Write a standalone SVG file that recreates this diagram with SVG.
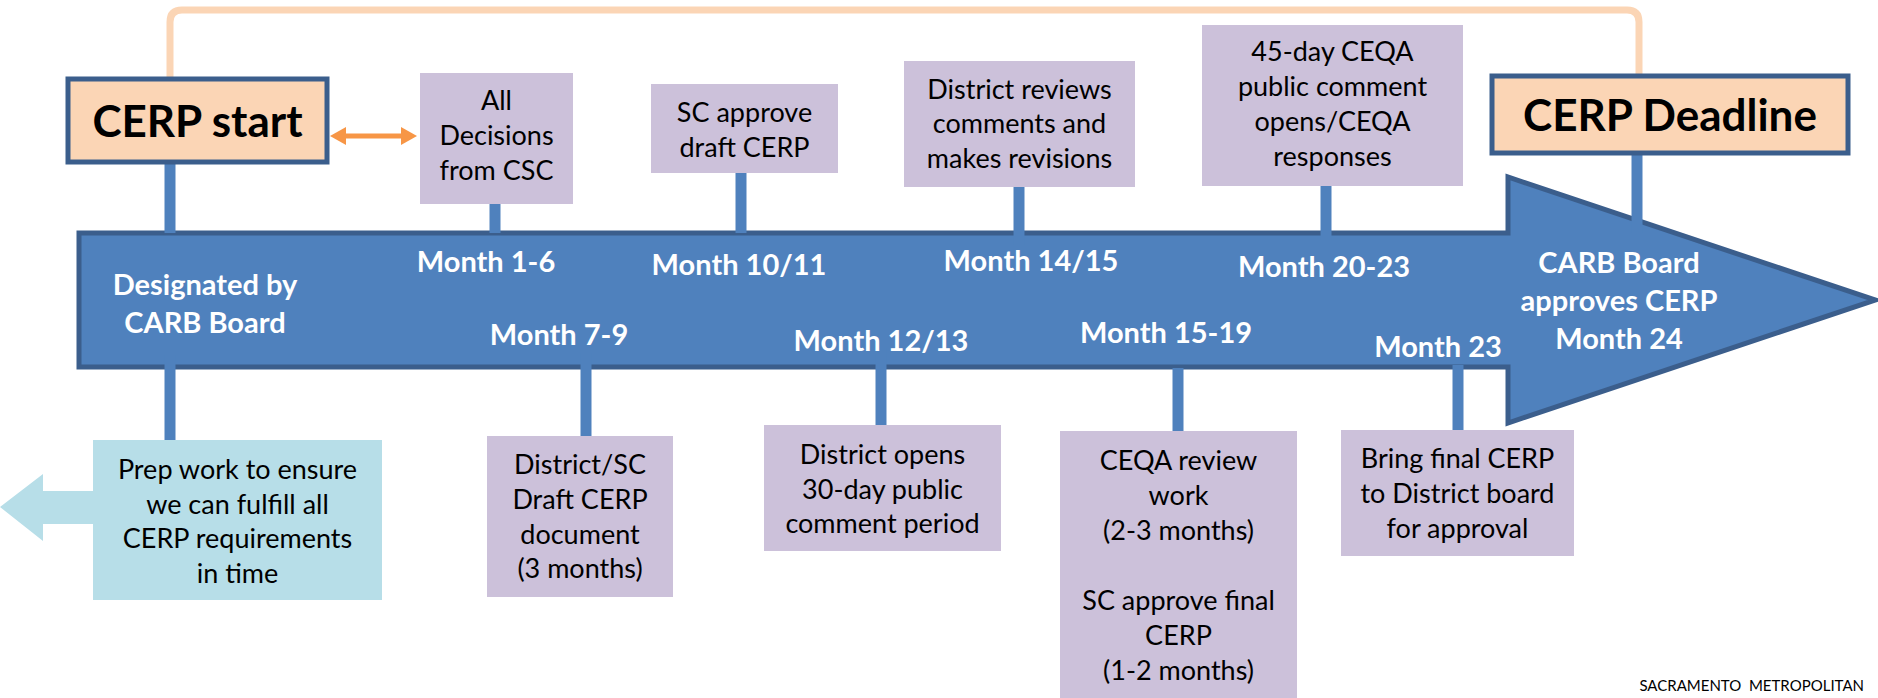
<svg xmlns="http://www.w3.org/2000/svg" width="1878" height="698" viewBox="0 0 1878 698">
<style>
.box{fill:#CCC1DA}
.peach{fill:#FBD5B5;stroke:#3B5E8C;stroke-width:5}
.t{font-family:Lato,'Liberation Sans',sans-serif;font-size:27px;fill:#000;text-anchor:middle}
.w{font-family:Lato,'Liberation Sans',sans-serif;font-weight:bold;font-size:29px;fill:#fff;text-anchor:middle}
.h{font-family:Lato,'Liberation Sans',sans-serif;font-weight:bold;font-size:44px;fill:#000;text-anchor:middle}
.bar{stroke:#4F81BD;stroke-width:11;fill:none}
</style>
<defs>
<marker id="oh" markerUnits="userSpaceOnUse" markerWidth="16" markerHeight="18" refX="8" refY="9" orient="auto-start-reverse"><path d="M0,0 L16,9 L0,18 z" fill="#F79646"/></marker>
</defs>
<g id="timeline">
<polygon points="79,233 1508,233 1508,177 1875,300 1508,423 1508,367 79,367" fill="#4F81BD" stroke="#3B5E8C" stroke-width="5" stroke-linejoin="miter"/>
</g>
<g id="connectors">
<path d="M170,79 V22 Q170,10 182,10 H1627 Q1639,10 1639,22 V76" fill="none" stroke="#FBD5B5" stroke-width="7"/>
<line x1="338" y1="136" x2="409" y2="136" stroke="#F79646" stroke-width="5" marker-start="url(#oh)" marker-end="url(#oh)"/>
<line class="bar" x1="170" y1="162" x2="170" y2="233"/>
<line class="bar" x1="170" y1="355" x2="170" y2="440"/>
<line class="bar" x1="495" y1="204" x2="495" y2="233"/>
<line class="bar" x1="586" y1="353" x2="586" y2="437"/>
<line class="bar" x1="741" y1="173" x2="741" y2="233"/>
<line class="bar" x1="881" y1="348" x2="881" y2="425"/>
<line class="bar" x1="1019" y1="187" x2="1019" y2="245"/>
<line class="bar" x1="1178" y1="368" x2="1178" y2="431"/>
<line class="bar" x1="1326" y1="186" x2="1326" y2="240"/>
<line class="bar" x1="1637" y1="153" x2="1637" y2="233"/>
<line class="bar" x1="1458" y1="365" x2="1458" y2="430"/>
</g>
<g id="cerp-start">
<rect class="peach" x="68" y="79" width="259" height="83"/>
<text class="h" x="197.5" y="137">CERP start</text>
</g>
<g id="cerp-deadline">
<rect class="peach" x="1492" y="76" width="356" height="77"/>
<text class="h" x="1670" y="131">CERP Deadline</text>
</g>
<g id="all-decisions">
<rect class="box" x="420" y="73" width="153" height="131"/>
<text class="t" x="496.5" y="110">All</text>
<text class="t" x="496.5" y="145">Decisions</text>
<text class="t" x="496.5" y="180">from CSC</text>
</g>
<g id="sc-approve-draft">
<rect class="box" x="651" y="84" width="187" height="89"/>
<text class="t" x="744.5" y="122">SC approve</text>
<text class="t" x="744.5" y="157">draft CERP</text>
</g>
<g id="district-reviews">
<rect class="box" x="904" y="61" width="231" height="126"/>
<text class="t" x="1019.5" y="99">District reviews</text>
<text class="t" x="1019.5" y="133">comments and</text>
<text class="t" x="1019.5" y="168">makes revisions</text>
</g>
<g id="ceqa-45-day">
<rect class="box" x="1202" y="25" width="261" height="161"/>
<text class="t" x="1332.5" y="61">45-day CEQA</text>
<text class="t" x="1332.5" y="96">public comment</text>
<text class="t" x="1332.5" y="131">opens/CEQA</text>
<text class="t" x="1332.5" y="166">responses</text>
</g>
<g id="prep-work">
<path d="M93,440 H382 V600 H93 V524 H43 V541 L0,507 L43,474 V491 H93 Z" fill="#B7DEE8"/>
<text class="t" x="237.5" y="479">Prep work to ensure</text>
<text class="t" x="237.5" y="514">we can fulfill all</text>
<text class="t" x="237.5" y="548">CERP requirements</text>
<text class="t" x="237.5" y="583">in time</text>
</g>
<g id="district-sc-draft">
<rect class="box" x="487" y="436" width="186" height="161"/>
<text class="t" x="580" y="474">District/SC</text>
<text class="t" x="580" y="509">Draft CERP</text>
<text class="t" x="580" y="544">document</text>
<text class="t" x="580" y="578">(3 months)</text>
</g>
<g id="district-opens">
<rect class="box" x="764" y="425" width="237" height="126"/>
<text class="t" x="882.5" y="464">District opens</text>
<text class="t" x="882.5" y="499">30-day public</text>
<text class="t" x="882.5" y="533">comment period</text>
</g>
<g id="ceqa-review">
<rect class="box" x="1060" y="431" width="237" height="280"/>
<text class="t" x="1178.5" y="470">CEQA review</text>
<text class="t" x="1178.5" y="505">work</text>
<text class="t" x="1178.5" y="540">(2-3 months)</text>
<text class="t" x="1178.5" y="610">SC approve final</text>
<text class="t" x="1178.5" y="645">CERP</text>
<text class="t" x="1178.5" y="680">(1-2 months)</text>
</g>
<g id="bring-final">
<rect class="box" x="1341" y="430" width="233" height="126"/>
<text class="t" x="1457.5" y="468">Bring final CERP</text>
<text class="t" x="1457.5" y="503">to District board</text>
<text class="t" x="1457.5" y="538">for approval</text>
</g>
<g id="labels">
<text class="w" x="205" y="295">Designated by</text>
<text class="w" x="205" y="333">CARB Board</text>
<text class="w" x="486" y="272">Month 1-6</text>
<text class="w" x="559" y="345">Month 7-9</text>
<text class="w" x="739" y="275">Month 10/11</text>
<text class="w" x="881" y="351">Month 12/13</text>
<text class="w" x="1031" y="271">Month 14/15</text>
<text class="w" x="1166" y="343">Month 15-19</text>
<text class="w" x="1324" y="277">Month 20-23</text>
<text class="w" x="1438" y="357">Month 23</text>
<text class="w" x="1619" y="273">CARB Board</text>
<text class="w" x="1619" y="311">approves CERP</text>
<text class="w" x="1619" y="349">Month 24</text>
</g>
<g id="footer">
<text x="1864" y="691" font-family="Lato,'Liberation Sans',sans-serif" font-size="15" text-anchor="end" fill="#000" style="white-space:pre">SACRAMENTO  METROPOLITAN</text>
</g>
</svg>
